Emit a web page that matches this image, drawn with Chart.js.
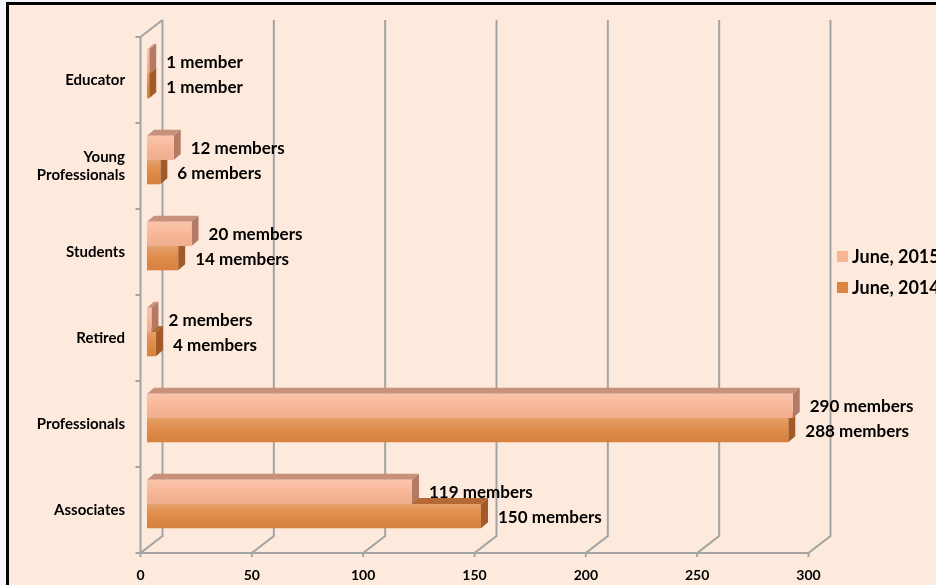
<!DOCTYPE html>
<html>
<head>
<meta charset="utf-8">
<script src="https://cdn.jsdelivr.net/npm/chart.js@4.4.1/dist/chart.umd.min.js"></script>
<style>
  html, body { margin: 0; padding: 0; background: #f4f6f9; overflow: hidden; }
  #frame {
    position: absolute; left: 6px; top: 2px; width: 950px; height: 600px;
    border: 3px solid #000; background: #fdeadc;
  }
  #wrap { position: absolute; left: 0; top: 0; width: 936px; height: 585px; }
</style>
</head>
<body>
<div id="frame"></div>
<div id="wrap"><canvas id="chart" width="936" height="585"></canvas></div>
<script>
"use strict";

// membership by category
var categories = ["Educator", ["Young", "Professionals"], "Students", "Retired", "Professionals", "Associates"];
var june2015 = [1, 12, 20, 2, 290, 119];
var june2014 = [1, 6, 14, 4, 288, 150];
var xTicks = [0, 50, 100, 150, 200, 250, 300];

const $ = id => document.getElementById(id);

var FONT = "Lato, 'Open Sans', sans-serif";
var GRID = "#a3a3a3";
// fake 3d: front plane offset and back wall offset relative to the bar plane
var front = { dx: -6.5, dy: 6 };
var back = { dx: 15.5, dy: -11 };
var depth = { dx: 7, dy: 6 };

var faces = [
  { top: "#c8917c", side: "#b37b66" },   // June, 2015
  { top: "#b46935", side: "#a25a28" }    // June, 2014
];

var memberText = function(v) {
  return v == 1 ? v + " member" : v + " members";
};

// walls, gridlines and the slanted axis lines
var wallsPlugin = {
  id: "walls",
  beforeDatasetsDraw: function(chart) {
    var ctx = chart.ctx;
    var area = chart.chartArea;
    var xs = chart.scales.x;
    ctx.save();
    ctx.strokeStyle = GRID;
    ctx.lineWidth = 2;

    var fTop = area.top + front.dy, fBot = area.bottom + front.dy;
    var bTop = area.top + back.dy, bBot = area.bottom + back.dy;

    // back gridlines + floor slants + front ticks
    xs.ticks.forEach(function(t) {
      var px = xs.getPixelForValue(t.value);
      var fx = px + front.dx, bx = px + back.dx;
      ctx.beginPath();
      ctx.moveTo(bx, bTop);
      ctx.lineTo(bx, bBot);
      ctx.lineTo(fx, fBot);
      ctx.lineTo(fx, fBot + 4);
      ctx.stroke();
    });

    // front x axis
    var x0 = xs.getPixelForValue(0) + front.dx;
    var x1 = xs.getPixelForValue(300) + front.dx;
    ctx.beginPath();
    ctx.moveTo(x0 - 4, fBot);
    ctx.lineTo(x1, fBot);
    ctx.stroke();

    // front y axis with the top slant
    ctx.beginPath();
    ctx.moveTo(x0 + back.dx - front.dx, bTop);
    ctx.lineTo(x0, fTop);
    ctx.lineTo(x0, fBot);
    ctx.stroke();

    // category separators on the y axis
    var n = chart.data.labels.length;
    var step = (area.bottom - area.top) / n;
    for (var i = 0; i <= n; i++) {
      var y = area.top + i * step + front.dy;
      ctx.beginPath();
      ctx.moveTo(x0 - 5, y);
      ctx.lineTo(x0, y);
      ctx.stroke();
    }

    // depth faces of the bars, lower series first
    [1, 0].forEach(function(d) {
      chart.getDatasetMeta(d).data.forEach(function(bar) {
        var h = bar.height;
        var top = bar.y - h / 2, bot = bar.y + h / 2;
        ctx.fillStyle = faces[d].top;
        ctx.beginPath();
        ctx.moveTo(bar.base, top);
        ctx.lineTo(bar.x, top);
        ctx.lineTo(bar.x + depth.dx, top - depth.dy);
        ctx.lineTo(bar.base + depth.dx, top - depth.dy);
        ctx.closePath();
        ctx.fill();
        ctx.fillStyle = faces[d].side;
        ctx.beginPath();
        ctx.moveTo(bar.x, top);
        ctx.lineTo(bar.x + depth.dx, top - depth.dy);
        ctx.lineTo(bar.x + depth.dx, bot - depth.dy);
        ctx.lineTo(bar.x, bot);
        ctx.closePath();
        ctx.fill();
      });
    });
    ctx.restore();
  },
  afterDatasetsDraw: function(chart) {
    var ctx = chart.ctx;
    ctx.save();
    chart.data.datasets.forEach(function(ds, d) {
      chart.getDatasetMeta(d).data.forEach(function(bar, i) {
        var h = bar.height;
        var top = bar.y - h / 2;
        // soft highlight like the excel bevel
        var g = ctx.createLinearGradient(0, top, 0, top + h);
        g.addColorStop(0, "rgba(255,255,255,0.22)");
        g.addColorStop(0.45, "rgba(255,255,255,0.05)");
        g.addColorStop(1, "rgba(0,0,0,0.03)");
        ctx.fillStyle = g;
        ctx.fillRect(bar.base, top, bar.x - bar.base, h);

        ctx.fillStyle = "#000";
        ctx.font = "bold 17px " + FONT;
        ctx.textAlign = "left";
        ctx.textBaseline = "middle";
        ctx.fillText(memberText(ds.data[i]), bar.x + depth.dx + 10, bar.y + 1);
      });
    });
    ctx.restore();
  }
};

// legend on the right, cut off by the frame like the original
var legendPlugin = {
  id: "sideLegend",
  afterDraw: function(chart) {
    var ctx = chart.ctx;
    var left = chart.chartArea.right + 22;
    var mid = (chart.chartArea.top + chart.chartArea.bottom) / 2;
    ctx.save();
    ctx.font = "bold 18px " + FONT;
    ctx.textBaseline = "middle";
    ctx.textAlign = "left";
    chart.data.datasets.forEach(function(ds, d) {
      var y = mid - 32 + d * 31;
      ctx.fillStyle = ds.backgroundColor;
      ctx.fillRect(left, y - 6, 11, 11);
      ctx.fillStyle = "#000";
      ctx.fillText(ds.label, left + 15, y);
    });
    ctx.restore();
  }
};

var chart = new Chart($("chart").getContext("2d"), {
  type: "bar",
  data: {
    labels: categories,
    datasets: [
      { label: "June, 2015", data: june2015, backgroundColor: "#f8b594" },
      { label: "June, 2014", data: june2014, backgroundColor: "#de8641" }
    ]
  },
  options: {
    indexAxis: "y",
    responsive: false,
    animation: false,
    events: [],
    categoryPercentage: 0.565,
    barPercentage: 1,
    layout: { padding: { left: 0, right: 121, top: 26, bottom: 0 } },
    plugins: {
      legend: { display: false },
      tooltip: { enabled: false }
    },
    scales: {
      x: {
        min: 0,
        max: 300,
        afterBuildTicks: function(scale) {
          scale.ticks = xTicks.map(function(v) { return { value: v }; });
        },
        afterFit: function(scale) { scale.height = 38; },
        grid: { display: false, drawTicks: false },
        border: { display: false },
        ticks: {
          labelOffset: -6.5,
          padding: 20,
          color: "#000",
          font: { family: FONT, size: 14, weight: "bold" }
        }
      },
      y: {
        afterFit: function(scale) { scale.width = 147; },
        grid: { display: false, drawTicks: false },
        border: { display: false },
        ticks: {
          labelOffset: 6,
          padding: 22,
          color: "#000",
          font: { family: FONT, size: 15, weight: "bold" }
        }
      }
    }
  },
  plugins: [wallsPlugin, legendPlugin]
});
</script>
</body>
</html>
